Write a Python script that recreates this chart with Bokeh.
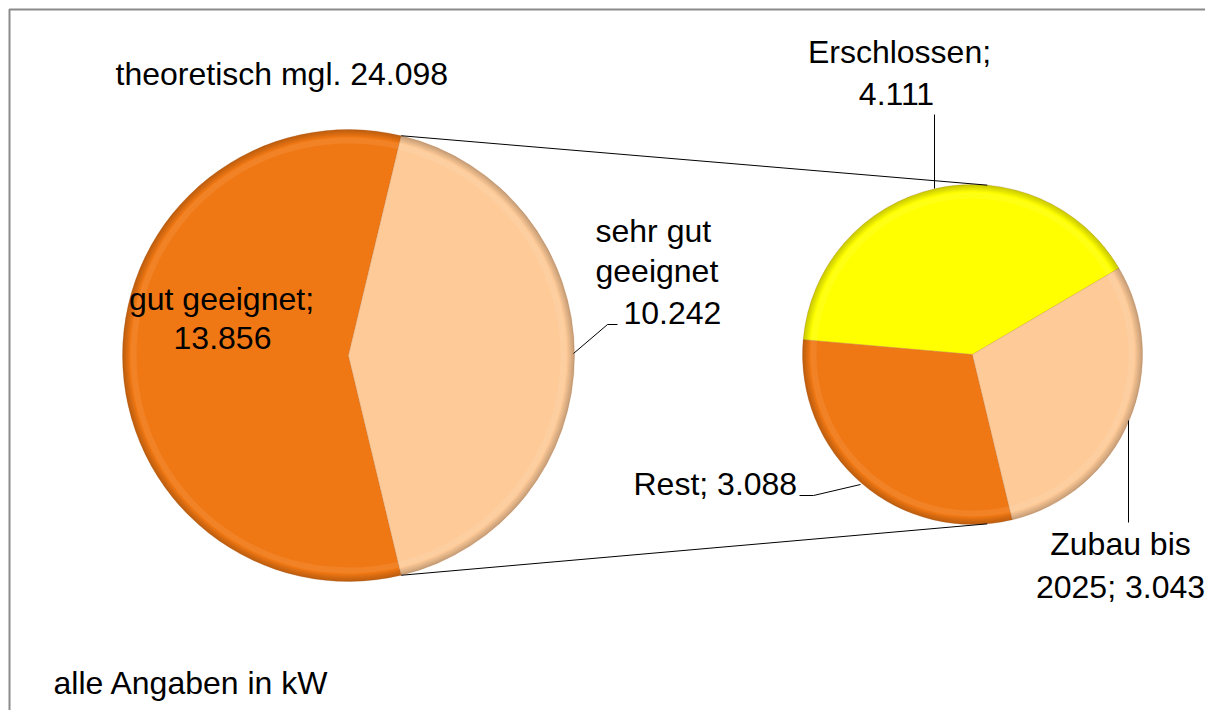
import math
from bokeh.plotting import figure
from bokeh.models import Range1d
from bokeh.core.properties import value
from bokeh.embed import file_html
from bokeh.resources import INLINE

# ---- data ----
main_labels = ["gut geeignet", "sehr gut geeignet"]
main_values = [13.856, 10.242]
total_label = "theoretisch mgl. 24.098"
sub_labels = ["Erschlossen", "Rest", "Zubau bis 2025"]
sub_values = [4.111, 3.088, 3.043]
note = "alle Angaben in kW"

main_colors = ["#F07814", "#FDCA98"]
sub_colors = ["#FFFF00", "#F07814", "#FDCA98"]

W, H = 1205, 710
FONT = value("Liberation Sans")
FS = "32px"
TEXT_SHIFT = 12  # compensate for baseline rendering offset

def X(px):
    return px

def Y(py):
    return H - py

p = figure(width=W, height=H, output_backend="svg", toolbar_location=None,
           x_range=Range1d(0, W), y_range=Range1d(0, H),
           min_border=0)
p.axis.visible = False
p.grid.visible = False
p.outline_line_color = None
p.background_fill_color = "white"
p.border_fill_color = "white"

# frame (left and top edges visible)
p.line([X(9), X(9), X(W + 20)], [Y(H + 20), Y(9), Y(9)], line_color="#8a8a8a", line_width=2)

# ---- main pie ----
cx1, cy1, r1 = X(348), Y(355), 226
tot = sum(main_values)
half = math.pi * main_values[1] / tot
main_starts = [half, -half]
main_ends = [2 * math.pi - half, half]


def shaded_wedges(cx, cy, r, starts, ends, colors):
    p.wedge(x=[cx] * len(starts), y=[cy] * len(starts), radius=r,
            start_angle=starts, end_angle=ends, fill_color=colors,
            line_color="#b07040", line_alpha=0.25, line_width=1)
    steps = 6
    for k in range(steps):
        inner = r - 7 + k * 7 / steps
        p.annular_wedge(x=[cx] * len(starts), y=[cy] * len(starts),
                        inner_radius=inner, outer_radius=r,
                        start_angle=starts, end_angle=ends,
                        fill_color="#000000", fill_alpha=0.035, line_color=None)
    p.annular_wedge(x=[cx] * len(starts), y=[cy] * len(starts),
                    inner_radius=r - 14, outer_radius=r - 8,
                    start_angle=starts, end_angle=ends,
                    fill_color="#ffffff", fill_alpha=0.08, line_color=None)


shaded_wedges(cx1, cy1, r1, main_starts, main_ends, main_colors)

# ---- sub pie ----
cx2, cy2, r2 = X(972), Y(354), 170
stot = sum(sub_values)
a = math.radians(30.5)
sub_starts, sub_ends = [], []
for v in sub_values:
    sub_starts.append(a)
    a += 2 * math.pi * v / stot
    sub_ends.append(a)
shaded_wedges(cx2, cy2, r2, sub_starts, sub_ends, sub_colors)

# ---- connector lines ----
ta = math.radians(85)
p.line([cx1 + r1 * math.cos(half), cx2 + r2 * math.cos(ta)],
       [cy1 + r1 * math.sin(half), cy2 + r2 * math.sin(ta)],
       line_color="#000000", line_width=1)
p.line([cx1 + r1 * math.cos(-half), cx2 + r2 * math.cos(-ta)],
       [cy1 + r1 * math.sin(-half), cy2 + r2 * math.sin(-ta)],
       line_color="#000000", line_width=1)

# ---- leader lines ----
p.line([X(617), X(607), X(573)], [Y(324), Y(324), Y(353)], line_color="black", line_width=1)
p.line([X(934), X(934)], [Y(114), Y(188)], line_color="black", line_width=1)
p.line([X(799), X(813), X(860)], [Y(495), Y(495), Y(484)], line_color="black", line_width=1)
p.line([X(1128), X(1128)], [Y(420), Y(522)], line_color="black", line_width=1)


def txt(x, y, s, align="left"):
    p.text(x=[X(x)], y=[Y(y - TEXT_SHIFT)], text=[s], text_font=FONT, text_font_size=FS,
           text_color="black", text_align=align, text_baseline="alphabetic")

fmt = lambda v: f"{v:.3f}"

txt(115, 85, total_label)
txt(221, 310, main_labels[0] + ";", "center")
txt(222, 349, fmt(main_values[0]), "center")
txt(595, 242, "sehr gut")
txt(595, 282, "geeignet")
txt(623, 324, fmt(main_values[1]))
txt(899, 63, sub_labels[0] + ";", "center")
txt(896, 105, fmt(sub_values[0]), "center")
txt(633, 495, sub_labels[1] + "; " + fmt(sub_values[1]))
txt(1120, 555, "Zubau bis", "center")
txt(1120, 598, "2025; " + fmt(sub_values[2]), "center")
txt(53, 694, note)

open("out.html", "w").write(file_html(p, INLINE))
